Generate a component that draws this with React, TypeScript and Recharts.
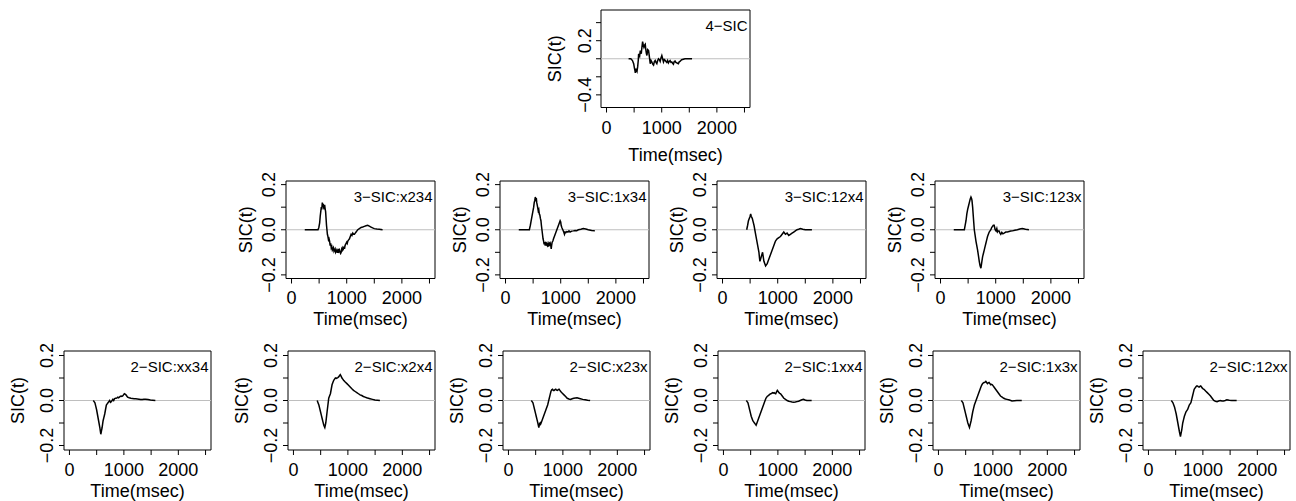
import React from 'react';
import { LineChart, Line, XAxis, YAxis, ReferenceLine, ReferenceArea } from 'recharts';

const FONT = '"Liberation Sans", Arial, Helvetica, sans-serif';

// ---------- data: [time (msec), SIC(t)] ----------
const sic4: number[][] = [
  [400, 0], [440, 0], [470, -0.02], [492, -0.055], [505, -0.1], [515, -0.13], [522, -0.156], [532, -0.11],
  [540, -0.125], [552, -0.14], [564, -0.09], [575, -0.02], [582, 0.055], [592, 0.04], [600, 0.03], [612, 0.09],
  [622, 0.07], [630, 0.055], [642, 0.13], [654, 0.19], [666, 0.15], [678, 0.127], [690, 0.15], [702, 0.16],
  [712, 0.1], [722, 0.06], [732, 0.036], [747, 0.1], [762, 0.09], [777, 0.02], [792, -0.055], [807, -0.02],
  [822, -0.036], [837, -0.06], [852, -0.07], [867, -0.03], [882, -0.018], [897, -0.04], [912, -0.055], [927, -0.02],
  [942, 0], [957, -0.01], [972, -0.03], [987, 0.01], [1002, 0.036], [1017, 0], [1032, -0.036], [1047, -0.01],
  [1062, -0.018], [1077, -0.03], [1092, -0.04], [1107, -0.02], [1122, -0.047], [1137, -0.03], [1152, -0.02],
  [1167, -0.04], [1182, -0.036], [1197, -0.05], [1212, -0.06], [1227, -0.03], [1242, -0.025], [1257, -0.04],
  [1272, -0.045], [1287, -0.05], [1302, -0.055], [1317, -0.035], [1332, -0.03], [1347, -0.02], [1362, -0.011],
  [1392, -0.005], [1422, 0], [1482, 0], [1550, 0],
];

const sic3x234: number[][] = [
  [240, 0], [300, 0], [360, 0], [420, 0], [480, 0], [495, 0.01], [510, 0.03], [520, 0.06], [530, 0.08], [540, 0.1],
  [548, 0.09], [558, 0.12], [566, 0.1], [574, 0.115], [582, 0.1], [590, 0.09], [600, 0.11], [608, 0.095], [618, 0.08],
  [626, 0.05], [634, 0.02], [642, 0.0], [650, -0.02], [660, -0.03], [670, -0.045], [680, -0.04], [690, -0.05],
  [700, -0.07], [710, -0.06], [720, -0.08], [730, -0.075], [740, -0.09], [750, -0.085], [760, -0.08], [770, -0.095],
  [780, -0.09], [790, -0.085], [800, -0.1], [810, -0.095], [820, -0.09], [830, -0.1], [840, -0.1], [850, -0.085],
  [860, -0.095], [870, -0.09], [880, -0.1], [890, -0.105], [900, -0.1], [910, -0.085], [920, -0.09], [930, -0.08],
  [940, -0.085], [950, -0.075], [960, -0.085], [970, -0.07], [980, -0.065], [990, -0.06], [1000, -0.055],
  [1010, -0.06], [1020, -0.05], [1035, -0.045], [1050, -0.04], [1065, -0.03], [1080, -0.02], [1095, -0.025],
  [1110, -0.015], [1125, -0.02], [1140, -0.02], [1155, -0.015], [1170, -0.01], [1185, -0.005], [1200, 0.0],
  [1230, 0.005], [1260, 0.01], [1290, 0.012], [1320, 0.015], [1350, 0.018], [1380, 0.02], [1410, 0.016],
  [1440, 0.012], [1470, 0.008], [1500, 0.005], [1545, 0.003], [1590, 0.002], [1650, 0],
];

const sic3_1x34: number[][] = [
  [240, 0], [300, 0], [360, 0], [432, 0], [450, 0.02], [465, 0.04], [480, 0.06], [495, 0.08], [510, 0.1], [520, 0.12],
  [530, 0.13], [540, 0.145], [550, 0.135], [558, 0.14], [566, 0.12], [574, 0.11], [582, 0.1], [592, 0.085],
  [602, 0.09], [612, 0.07], [622, 0.065], [632, 0.05], [642, 0.04], [650, 0.02], [660, 0.0], [670, -0.02],
  [680, -0.04], [690, -0.05], [700, -0.065], [710, -0.055], [720, -0.07], [730, -0.06], [740, -0.065], [750, -0.06],
  [760, -0.07], [770, -0.065], [780, -0.075], [790, -0.06], [800, -0.065], [810, -0.06], [820, -0.07], [828, -0.085],
  [835, -0.07], [845, -0.055], [858, -0.05], [870, -0.04], [885, -0.03], [900, -0.02], [915, -0.01], [930, 0.0],
  [945, 0.01], [960, 0.02], [975, 0.03], [990, 0.04], [1000, 0.035], [1008, 0.02], [1020, 0.01], [1038, 0.0],
  [1055, -0.01], [1068, -0.02], [1080, -0.01], [1095, -0.012], [1110, -0.008], [1130, -0.01], [1150, -0.005],
  [1170, -0.01], [1200, -0.006], [1230, -0.005], [1260, -0.003], [1290, -0.004], [1320, 0.0], [1365, 0.002],
  [1410, 0.005], [1455, 0.003], [1500, 0.0], [1560, -0.003], [1620, -0.005],
];

const sic3_12x4: number[][] = [
  [438, 0], [455, 0.02], [470, 0.04], [485, 0.05], [500, 0.06], [510, 0.07], [520, 0.06], [530, 0.055], [540, 0.05],
  [555, 0.035], [570, 0.02], [585, 0.0], [600, -0.02], [615, -0.04], [630, -0.06], [645, -0.08], [660, -0.1],
  [670, -0.125], [678, -0.14], [690, -0.13], [702, -0.12], [714, -0.11], [726, -0.1], [738, -0.12], [750, -0.14],
  [765, -0.15], [780, -0.16], [795, -0.155], [810, -0.15], [825, -0.14], [840, -0.13], [855, -0.12], [870, -0.11],
  [885, -0.1], [900, -0.09], [915, -0.08], [930, -0.07], [945, -0.06], [960, -0.05], [975, -0.045], [990, -0.04],
  [1020, -0.035], [1050, -0.03], [1080, -0.02], [1110, -0.01], [1140, -0.02], [1170, -0.015], [1200, -0.025],
  [1230, -0.02], [1260, -0.015], [1290, -0.01], [1320, -0.005], [1350, 0.0], [1380, 0.002], [1410, 0.005],
  [1455, 0.002], [1500, 0.0], [1560, 0], [1620, 0],
];

const sic3_123x: number[][] = [
  [240, 0], [300, 0], [360, 0], [432, 0], [447, 0.02], [462, 0.04], [477, 0.07], [492, 0.09], [507, 0.105],
  [522, 0.12], [537, 0.135], [552, 0.145], [561, 0.14], [570, 0.13], [582, 0.1], [594, 0.06], [603, 0.03],
  [612, 0.0], [627, -0.025], [642, -0.05], [657, -0.07], [672, -0.09], [687, -0.115], [702, -0.14], [717, -0.16],
  [732, -0.17], [747, -0.145], [762, -0.12], [777, -0.105], [792, -0.09], [807, -0.075], [822, -0.06], [837, -0.045],
  [852, -0.03], [867, -0.02], [882, -0.01], [897, -0.005], [912, 0.0], [927, 0.01], [942, 0.015], [957, 0.02],
  [972, 0.02], [981, 0.01], [990, 0.0], [1005, -0.005], [1020, 0.005], [1032, -0.01], [1047, -0.005], [1062, -0.005],
  [1077, -0.015], [1092, -0.02], [1110, -0.012], [1130, -0.018], [1152, -0.015], [1182, -0.01], [1212, -0.01],
  [1242, -0.008], [1272, -0.006], [1302, -0.005], [1347, -0.002], [1392, 0.0], [1437, 0.003], [1482, 0.005],
  [1540, 0.002], [1602, 0],
];

const sic2xx34: number[][] = [
  [438, 0], [453, -0.005], [468, -0.01], [483, -0.025], [498, -0.04], [513, -0.06], [528, -0.08], [543, -0.1],
  [558, -0.12], [567, -0.135], [576, -0.15], [588, -0.135], [600, -0.12], [609, -0.105], [618, -0.09], [633, -0.075],
  [648, -0.06], [663, -0.04], [678, -0.02], [693, -0.015], [708, -0.01], [723, -0.005], [738, 0.0], [753, -0.008],
  [768, -0.005], [783, 0.0], [798, 0.005], [813, 0.0], [828, 0.008], [843, 0.01], [858, 0.01], [873, 0.012],
  [888, 0.015], [903, 0.012], [918, 0.015], [933, 0.018], [948, 0.02], [963, 0.018], [978, 0.02], [993, 0.025],
  [1008, 0.03], [1023, 0.028], [1038, 0.025], [1053, 0.02], [1068, 0.015], [1098, 0.012], [1128, 0.01],
  [1158, 0.009], [1188, 0.008], [1218, 0.008], [1248, 0.007], [1278, 0.006], [1308, 0.005], [1338, 0.005],
  [1368, 0.006], [1398, 0.006], [1443, 0.004], [1488, 0.002], [1530, 0.001], [1578, 0],
];

const sic2x2x4: number[][] = [
  [436, 0], [451, -0.01], [467, -0.02], [482, -0.035], [497, -0.05], [512, -0.065], [527, -0.08], [542, -0.095],
  [558, -0.11], [567, -0.115], [576, -0.12], [585, -0.11], [594, -0.1], [606, -0.075], [618, -0.05], [633, -0.02],
  [648, 0.01], [663, 0.02], [679, 0.03], [694, 0.05], [709, 0.07], [724, 0.08], [740, 0.09], [755, 0.095],
  [770, 0.1], [785, 0.098], [800, 0.1], [815, 0.102], [830, 0.105], [845, 0.11], [860, 0.115], [875, 0.108],
  [891, 0.1], [906, 0.095], [921, 0.09], [951, 0.082], [982, 0.075], [1012, 0.068], [1042, 0.06], [1073, 0.052],
  [1103, 0.045], [1134, 0.04], [1164, 0.035], [1194, 0.03], [1224, 0.025], [1255, 0.022], [1285, 0.018],
  [1315, 0.015], [1345, 0.012], [1376, 0.01], [1406, 0.008], [1451, 0.005], [1497, 0.002], [1540, 0.001], [1588, 0],
];

const sic2x23x: number[][] = [
  [420, 0], [435, -0.005], [450, -0.01], [465, -0.025], [480, -0.04], [495, -0.055], [510, -0.07], [525, -0.085],
  [540, -0.1], [549, -0.11], [558, -0.12], [570, -0.105], [582, -0.1], [591, -0.105], [600, -0.1], [615, -0.09],
  [630, -0.08], [645, -0.07], [660, -0.06], [675, -0.05], [690, -0.04], [705, -0.03], [720, -0.02], [735, -0.005],
  [750, 0.01], [765, 0.025], [780, 0.04], [795, 0.048], [810, 0.05], [825, 0.045], [840, 0.045], [855, 0.048],
  [870, 0.05], [885, 0.046], [900, 0.045], [915, 0.048], [930, 0.05], [945, 0.045], [960, 0.04], [990, 0.032],
  [1020, 0.025], [1050, 0.018], [1080, 0.01], [1110, 0.007], [1140, 0.005], [1170, 0.008], [1200, 0.01],
  [1230, 0.011], [1260, 0.012], [1290, 0.01], [1320, 0.008], [1365, 0.005], [1410, 0.003], [1455, 0.001], [1500, 0],
];

const sic2_1xx4: number[][] = [
  [420, 0], [435, -0.005], [450, -0.01], [465, -0.025], [480, -0.04], [495, -0.055], [510, -0.07], [525, -0.08],
  [540, -0.09], [555, -0.095], [570, -0.1], [585, -0.105], [600, -0.11], [615, -0.1], [630, -0.09], [645, -0.08],
  [660, -0.07], [675, -0.06], [690, -0.05], [705, -0.04], [720, -0.03], [735, -0.02], [750, -0.01], [765, 0.0],
  [780, 0.01], [795, 0.015], [810, 0.02], [825, 0.022], [840, 0.025], [855, 0.028], [870, 0.03], [885, 0.032],
  [900, 0.035], [915, 0.033], [930, 0.035], [945, 0.032], [960, 0.03], [975, 0.038], [990, 0.045], [1005, 0.04],
  [1020, 0.035], [1035, 0.032], [1050, 0.03], [1080, 0.02], [1110, 0.01], [1140, 0.005], [1170, 0.0],
  [1200, -0.003], [1230, -0.005], [1260, -0.007], [1290, -0.008], [1320, -0.007], [1350, -0.005], [1380, -0.003],
  [1410, 0.0], [1440, 0.003], [1470, 0.005], [1500, 0.002], [1530, 0.0], [1620, 0],
];

const sic2_1x3x: number[][] = [
  [420, 0], [435, -0.005], [450, -0.01], [465, -0.025], [480, -0.04], [495, -0.055], [510, -0.07], [525, -0.085],
  [540, -0.1], [555, -0.11], [570, -0.12], [585, -0.105], [600, -0.09], [615, -0.07], [630, -0.05], [645, -0.035],
  [660, -0.02], [675, -0.01], [690, 0.0], [705, 0.01], [720, 0.02], [735, 0.03], [750, 0.04], [765, 0.05],
  [780, 0.06], [795, 0.068], [810, 0.075], [825, 0.078], [840, 0.08], [855, 0.082], [870, 0.085], [885, 0.08],
  [900, 0.075], [915, 0.078], [930, 0.08], [945, 0.075], [960, 0.07], [975, 0.072], [990, 0.07], [1005, 0.065],
  [1020, 0.06], [1050, 0.05], [1080, 0.04], [1110, 0.03], [1140, 0.02], [1170, 0.015], [1200, 0.01], [1230, 0.007],
  [1260, 0.005], [1305, 0.002], [1350, -0.002], [1395, -0.001], [1440, 0.0], [1530, 0],
];

const sic2_12xx: number[][] = [
  [420, 0], [435, -0.005], [450, -0.01], [465, -0.02], [480, -0.03], [495, -0.045], [510, -0.06], [525, -0.08],
  [540, -0.1], [555, -0.12], [570, -0.14], [579, -0.15], [588, -0.16], [600, -0.145], [612, -0.13], [621, -0.115],
  [630, -0.1], [645, -0.085], [660, -0.07], [675, -0.06], [690, -0.05], [705, -0.045], [720, -0.04], [735, -0.03],
  [750, -0.02], [765, -0.015], [780, -0.01], [795, 0.005], [810, 0.02], [825, 0.035], [840, 0.05], [855, 0.055],
  [870, 0.06], [885, 0.065], [900, 0.065], [915, 0.062], [930, 0.06], [945, 0.063], [960, 0.065], [975, 0.06],
  [990, 0.055], [1005, 0.052], [1020, 0.05], [1050, 0.042], [1080, 0.035], [1110, 0.028], [1140, 0.02],
  [1170, 0.01], [1200, 0.0], [1230, -0.003], [1260, -0.005], [1290, -0.002], [1320, 0.0], [1350, -0.002],
  [1380, -0.002], [1410, 0.0], [1440, 0.003], [1485, 0.001], [1530, 0.0], [1620, 0],
];

// ---------- axes / labels ----------
const xDomain: [number, number] = [-100, 2600];
const xTicks = [0, 500, 1000, 1500, 2000, 2500];
const xTickLabels = [0, 1000, 2000];
const yTicksSmall = [-0.2, -0.1, 0, 0.1, 0.2];
const yLabelsSmall = [-0.2, 0, 0.2];
const yTicksLarge = [-0.4, -0.2, 0, 0.2, 0.4];
const yLabelsLarge = [-0.4, 0.2];
const xTitle = 'Time(msec)';
const yTitle = 'SIC(t)';

const topTitles = ['4−SIC'];
const midTitles = ['3−SIC:x234', '3−SIC:1x34', '3−SIC:12x4', '3−SIC:123x'];
const botTitles = ['2−SIC:xx34', '2−SIC:x2x4', '2−SIC:x23x', '2−SIC:1xx4', '2−SIC:1x3x', '2−SIC:12xx'];

const topSeries = [sic4];
const midSeries = [sic3x234, sic3_1x34, sic3_12x4, sic3_123x];
const botSeries = [sic2xx34, sic2x2x4, sic2x23x, sic2_1xx4, sic2_1x3x, sic2_12xx];

// ---------- layout (page pixels of each plot box) ----------
type RowLayout = {
  lefts: number[]; top: number; w: number; h: number;
  xTickDy: number; xTitleDy: number; yTickDx: number; yTitleDx: number;
};
const topRow: RowLayout = { lefts: [601], top: 9.5, w: 149, h: 97.5, xTickDy: 20, xTitleDy: 47, yTickDx: 15.5, yTitleDx: 46 };
const midRow: RowLayout = { lefts: [286, 500, 717, 935], top: 180.5, w: 149, h: 97.5, xTickDy: 19, xTitleDy: 40, yTickDx: 17, yTitleDx: 40 };
const botRow: RowLayout = { lefts: [64, 288, 503, 718, 933, 1143], top: 351, w: 147, h: 99, xTickDy: 19.5, xTitleDy: 41, yTickDx: 17, yTitleDx: 46 };

const fmt = (v: number) => (Math.abs(v) < 1e-9 ? '0.0' : v.toFixed(1)).replace('-', '\u2212');

type PanelProps = {
  series: number[][]; title: string; left: number; row: RowLayout;
  yDomain: [number, number]; yTicks: number[]; yLabels: number[];
};

function Panel({ series, title, left, row, yDomain, yTicks, yLabels }: PanelProps) {
  const YW = 60;
  const XH = 60;
  const PT = 12;
  const PR = 8;
  const data = series.map(([t, v]) => ({ t, v }));
  const width = YW + row.w + PR;
  const height = PT + row.h + XH;
  const fs = 18;

  const XTick = (p: any) => {
    const v = p.payload.value;
    if (!xTickLabels.includes(v)) return <g />;
    return (
      <text x={p.x} y={p.y - 5 + row.xTickDy} textAnchor="middle" dominantBaseline="central"
        fontSize={fs} fontFamily={FONT} fill="#000">{String(v)}</text>
    );
  };
  const YTick = (p: any) => {
    const v = p.payload.value;
    if (!yLabels.some((l) => Math.abs(l - v) < 1e-9)) return <g />;
    const cx = p.x + 5 - row.yTickDx;
    return (
      <text x={cx} y={p.y} textAnchor="middle" dominantBaseline="central" transform={`rotate(-90 ${cx} ${p.y})`}
        fontSize={fs} fontFamily={FONT} fill="#000">{fmt(v)}</text>
    );
  };

  return (
    <div style={{ position: 'absolute', left: left - YW, top: row.top - PT }}>
      <LineChart width={width} height={height} data={data} margin={{ top: PT, right: PR, left: 0, bottom: 0 }}>
        <XAxis dataKey="t" type="number" domain={xDomain} ticks={xTicks} allowDataOverflow
          height={XH} axisLine={false} tickLine={{ stroke: '#000' }} tickSize={5} tickMargin={0}
          interval={0} tick={XTick}
          label={(lp: any) => {
            const vb = lp.viewBox;
            return (
              <text x={vb.x + vb.width / 2} y={vb.y + row.xTitleDy} textAnchor="middle" dominantBaseline="central"
                fontSize={fs} fontFamily={FONT} fill="#000">{xTitle}</text>
            );
          }} />
        <YAxis type="number" domain={yDomain} ticks={yTicks} allowDataOverflow width={YW}
          axisLine={false} tickLine={{ stroke: '#000' }} tickSize={5} tickMargin={0} interval={0} tick={YTick}
          label={(lp: any) => {
            const vb = lp.viewBox;
            const cx = vb.x + vb.width - row.yTitleDx;
            const cy = vb.y + vb.height / 2;
            return (
              <text x={cx} y={cy} textAnchor="middle" dominantBaseline="central" transform={`rotate(-90 ${cx} ${cy})`}
                fontSize={fs} fontFamily={FONT} fill="#000">{yTitle}</text>
            );
          }} />
        <ReferenceLine y={0} stroke="#bebebe" strokeWidth={1.2} />
        <Line type="linear" dataKey="v" stroke="#000" strokeWidth={1.5} dot={false} activeDot={false}
          isAnimationActive={false} />
        <ReferenceArea x1={xDomain[0]} x2={xDomain[1]} y1={yDomain[0]} y2={yDomain[1]} fill="none"
          fillOpacity={0} stroke="#000" strokeWidth={1} ifOverflow="visible"
          label={(lp: any) => {
            const vb = lp.viewBox;
            return (
              <text x={vb.x + vb.width - 2.5} y={vb.y + 15.5} textAnchor="end" dominantBaseline="central"
                fontSize={15} fontFamily={FONT} fill="#000">{title}</text>
            );
          }} />
      </LineChart>
    </div>
  );
}

export default function App() {
  return (
    <div style={{ position: 'absolute', left: 0, top: 0, width: 1296, height: 501, overflow: 'hidden', background: '#fff' }}>
      {topSeries.map((s, i) => (
        <Panel key={'t' + i} series={s} title={topTitles[i]} left={topRow.lefts[i]} row={topRow}
          yDomain={[-0.54, 0.54]} yTicks={yTicksLarge} yLabels={yLabelsLarge} />
      ))}
      {midSeries.map((s, i) => (
        <Panel key={'m' + i} series={s} title={midTitles[i]} left={midRow.lefts[i]} row={midRow}
          yDomain={[-0.216, 0.216]} yTicks={yTicksSmall} yLabels={yLabelsSmall} />
      ))}
      {botSeries.map((s, i) => (
        <Panel key={'b' + i} series={s} title={botTitles[i]} left={botRow.lefts[i]} row={botRow}
          yDomain={[-0.22, 0.22]} yTicks={yTicksSmall} yLabels={yLabelsSmall} />
      ))}
    </div>
  );
}
